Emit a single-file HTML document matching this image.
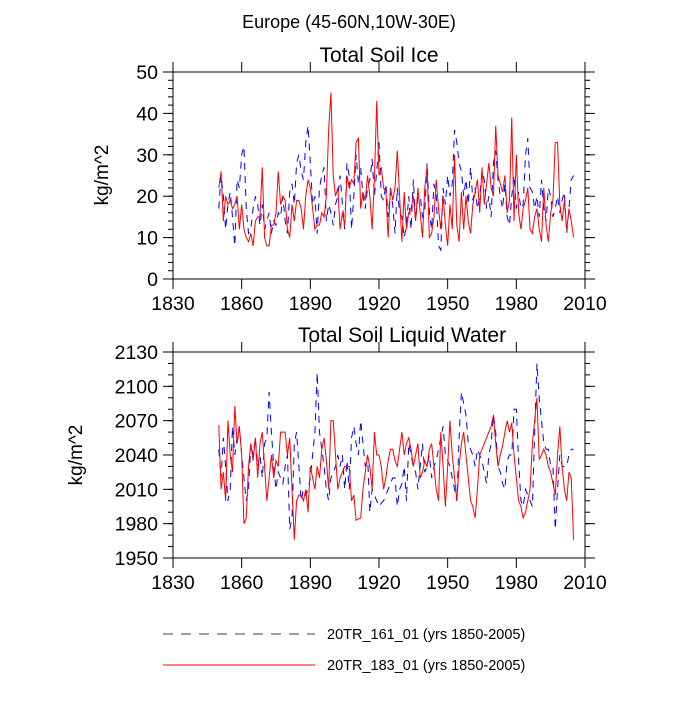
<!DOCTYPE html>
<html><head><meta charset="utf-8"><style>
html,body{margin:0;padding:0;background:#fff;}
svg text{font-family:"Liberation Sans",sans-serif;fill:#000;}
</style></head><body>
<svg id="chart" width="700" height="700" viewBox="0 0 700 700" xmlns="http://www.w3.org/2000/svg">
<text x="349" y="28" font-size="18" text-anchor="middle">Europe (45-60N,10W-30E)</text>
<text x="379" y="62" font-size="21" text-anchor="middle">Total Soil Ice</text>
<text x="402" y="342" font-size="21" text-anchor="middle">Total Soil Liquid Water</text>
<text transform="translate(108,175) rotate(-90)" font-size="19" text-anchor="middle">kg/m^2</text>
<text transform="translate(82,455) rotate(-90)" font-size="19" text-anchor="middle">kg/m^2</text>
<g id="p1"></g>
<g id="p2"></g>
<g>
<line x1="163" y1="634" x2="315" y2="634" stroke="#000" stroke-width="0.8" stroke-dasharray="10,8"/>
<text x="327" y="639" font-size="14.5">20TR_161_01 (yrs 1850-2005)</text>
<line x1="163" y1="665" x2="315" y2="665" stroke="#f00" stroke-width="1"/>
<text x="327" y="670" font-size="14.5">20TR_183_01 (yrs 1850-2005)</text>
</g>
</svg>
<script>
const years0 = 1850;
const xTicks = [1830,1860,1890,1920,1950,1980,2010];
const iceTicks = [0,10,20,30,40,50];
const liqTicks = [1950,1980,2010,2040,2070,2100,2130];
const iceRed = [22,26,14,20,18,19,17,18,20,12, 18,12,10,9,11,8,14,15,15,27, 10,8,8,13,13,16,26,18,20,19, 12,10,18,14,19,19,17,12,20,24, 22,17,12,13,13,16,15,20,36,45, 25,20,22,12,16,13,25,22,24,23, 33,34,17,21,19,25,20,12,24,43, 25,27,22,21,10,22,19,22,31,20, 9,21,12,16,17,20,14,22,16,10, 22,27,10,11,15,24,17,12,20,13, 8,18,12,30,13,9,21,12,20,14, 11,18,21,24,16,27,18,23,28,22, 20,37,25,23,21,25,16,19,39,14, 30,16,12,17,19,22,12,11,15,17, 12,9,22,13,9,16,19,33,33,18, 14,19,12,17,14,10];
const iceBlue = [17,25,20,12,18,21,15,8,24,22, 30,32,17,11,12,17,20,18,13,18, 12,14,16,11,14,13,16,15,20,14, 11,21,23,18,28,30,26,24,33,37, 28,18,20,11,22,25,27,14,18,16, 13,18,20,25,18,12,28,25,12,20, 30,23,27,20,17,22,24,29,20,26, 33,20,19,23,15,21,18,11,22,16, 15,10,13,20,12,24,14,20,20,15, 16,28,16,12,23,20,8,7,22,18, 25,20,23,36,33,28,26,20,24,18, 27,19,22,17,20,26,24,17,20,15, 28,31,24,20,17,23,15,13,20,25, 17,21,17,18,30,34,22,21,17,20, 15,24,17,14,22,20,15,17,20,16, 19,21,11,17,24,25];
const liqRed = [2066,2010,2025,2000,2070,2040,2025,2083,2050,2065, 2040,1980,1985,2030,2050,2035,2055,2020,2050,2060, 2030,2000,2020,2040,2020,2035,2030,2060,2060,2060, 2040,2055,2010,1966,2000,2005,2005,2000,2010,1990, 2030,2020,2010,2030,2020,2045,2055,2035,2010,2070, 2070,2040,2010,2020,2025,2030,2030,2030,2000,2005, 1983,1984,1985,2010,2025,2040,2030,2010,2060,2040, 2040,2030,2010,2020,2035,2045,2045,2035,2030,2045, 2060,2040,2050,2055,2045,2030,2040,2050,2020,2025, 2035,2030,2045,2050,2030,2010,2000,2060,2030,1995, 2030,2070,2040,2020,2000,2030,2050,2060,2040,2020, 2000,1995,1985,2010,2040,2045,2050,2055,2060,2065, 2075,2050,2030,2040,2048,2060,2070,2060,2068,2040, 2020,2000,1995,1985,1990,2000,2010,2050,2070,2090, 2036,2040,2045,2040,2030,2025,2015,2005,2040,2065, 2030,2010,2000,2025,2020,1966];
const liqBlue = [2045,2020,2055,2030,2000,2010,2065,2040,2055,2065, 2040,2020,2000,2010,2050,2040,2055,2030,2040,2020, 2050,2055,2095,2060,2030,2010,2025,2020,2015,2030, 2040,1975,1985,2050,2060,2030,2000,2010,2005,2010, 2020,2040,2060,2112,2060,2045,2030,2010,2000,2020, 2025,2030,2040,2030,2040,2010,2035,2010,2055,2065, 2050,2040,2070,2050,2030,2040,1990,2010,2005,2000, 1995,1998,2000,2005,2010,2015,2020,2020,1995,2010, 2015,2030,2000,2050,2040,2030,2025,2010,2030,2050, 2025,2030,2040,2020,2030,2035,2045,2055,2065,2040, 2035,2030,2020,2010,2000,2055,2095,2085,2075,2050, 2045,2040,2030,2045,2040,2035,2025,2015,2040,2050, 2075,2060,2030,2025,2015,2010,2035,2040,2040,2080, 2080,2035,2000,1995,2010,2005,2000,1995,2060,2120, 2090,2070,2050,2045,2045,2030,2030,1975,2010,2040, 2030,2030,2030,2040,2045,2045];

const NS="http://www.w3.org/2000/svg";
const L=173,R=585;
function xs(yr){return L+(yr-1830)*(R-L)/180;}
function mk(g,tag,attrs){const e=document.createElementNS(NS,tag);for(const k in attrs)e.setAttribute(k,attrs[k]);g.appendChild(e);return e;}
function panel(gid,top,bot,ymin,ymax,yt,minorStep,red,blue,prefix){
  const g=document.getElementById(gid);
  const ys=v=>bot-(v-ymin)*(bot-top)/(ymax-ymin);
  const box=mk(g,'rect',{x:L,y:top,width:R-L,height:bot-top,fill:'none',stroke:'#000','stroke-width':1});
  
  
  for(const t of xTicks){
    const x=xs(t);
    mk(g,'line',{x1:x,y1:bot,x2:x,y2:bot+10,stroke:'#000'});
    mk(g,'line',{x1:x,y1:top,x2:x,y2:top-10,stroke:'#000'});
    const tx=mk(g,'text',{x:x,y:bot+31,'font-size':19.5,'text-anchor':'middle'});
    tx.textContent=t;
    
    
  }
  for(let v=ymin;v<=ymax+1e-9;v+=minorStep){
    const y=ys(v);
    mk(g,'line',{x1:L,y1:y,x2:L-5,y2:y,stroke:'#000'});
    mk(g,'line',{x1:R,y1:y,x2:R+5,y2:y,stroke:'#000'});
  }
  for(const t of yt){
    const y=ys(t);
    mk(g,'line',{x1:L,y1:y,x2:L-10,y2:y,stroke:'#000'});
    mk(g,'line',{x1:R,y1:y,x2:R+10,y2:y,stroke:'#000'});
    const tx=mk(g,'text',{x:L-15,y:y+7,'font-size':19.5,'text-anchor':'end'});
    tx.textContent=t;
    
    
  }
  const pts=a=>a.map((v,i)=>xs(years0+i).toFixed(2)+','+ys(v).toFixed(2)).join(' ');
  const b=mk(g,'polyline',{points:pts(blue),fill:'none',stroke:'#00f','stroke-width':1,'stroke-dasharray':'7,6'});
  
  
  const r=mk(g,'polyline',{points:pts(red),fill:'none',stroke:'#f00','stroke-width':1});
  
  
}
panel('p1',72,279,0,50,iceTicks,2,iceRed,iceBlue,'ice');
panel('p2',352,558,1950,2130,liqTicks,10,liqRed,liqBlue,'liquid');
</script>
</body></html>
